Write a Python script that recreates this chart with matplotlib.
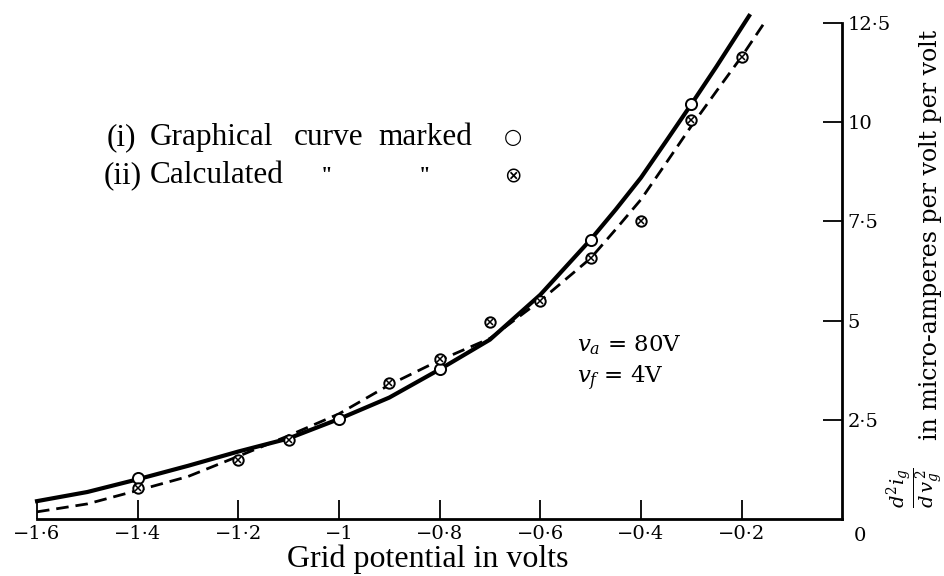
import numpy as np
import matplotlib.pyplot as plt

plt.rcParams['mathtext.fontset'] = 'dejavuserif'

# grid potential (volts) vs d2ig/dvg2 (micro-amperes per volt per volt)
graph_x = [-1.4, -1.0, -0.8, -0.5, -0.3]
graph_y = [1.04, 2.52, 3.77, 7.04, 10.45]

calc_x = [-1.4, -1.2, -1.1, -0.9, -0.8, -0.7, -0.6, -0.5, -0.4, -0.3, -0.2]
calc_y = [0.77, 1.48, 1.99, 3.43, 4.04, 4.97, 5.5, 6.59, 7.5, 10.05, 11.65]

# curves
solid_x = [-1.6, -1.5, -1.4, -1.3, -1.2, -1.1, -1.0, -0.9, -0.8, -0.7, -0.6,
           -0.5, -0.45, -0.4, -0.35, -0.3, -0.25, -0.185]
solid_y = [0.45, 0.68, 1.0, 1.34, 1.7, 2.03, 2.52, 3.06, 3.77, 4.52, 5.65,
           7.04, 7.8, 8.6, 9.52, 10.45, 11.4, 12.68]

dashed_x = [-1.6, -1.5, -1.4, -1.3, -1.2, -1.1, -1.0, -0.9, -0.8, -0.7, -0.6,
            -0.5, -0.45, -0.4, -0.35, -0.3, -0.25, -0.2, -0.155]
dashed_y = [0.18, 0.38, 0.72, 1.07, 1.58, 2.1, 2.65, 3.38, 4.0, 4.55, 5.5,
            6.57, 7.3, 8.05, 8.97, 9.9, 10.78, 11.65, 12.5]

xticks = [-1.6, -1.4, -1.2, -1.0, -0.8, -0.6, -0.4, -0.2]
xticklabels = ['\u22121\u00b76', '\u22121\u00b74', '\u22121\u00b72', '\u22121',
               '\u22120\u00b78', '\u22120\u00b76', '\u22120\u00b74', '\u22120\u00b72']
yticks = [2.5, 5, 7.5, 10, 12.5]
yticklabels = ['2\u00b75', '5', '7\u00b75', '10', '12\u00b75']

fig = plt.figure(figsize=(9.45, 5.76), dpi=100)
ax = fig.add_axes([0.0392, 0.099, 0.852, 0.861])

ax.plot(solid_x, solid_y, color='black', linewidth=3.0, clip_on=False, zorder=3)
ax.plot(dashed_x, dashed_y, color='black', linewidth=2.0, dashes=(4.5, 2.5),
        clip_on=False, zorder=3)

# graphical points: open circles
ax.plot(graph_x, graph_y, 'o', ms=8, mfc='white', mec='black', mew=1.4, zorder=5)
# calculated points: crossed circles
ax.plot(calc_x, calc_y, 'o', ms=7.5, mfc='white', mec='black', mew=1.4, zorder=5)
ax.plot(calc_x, calc_y, 'x', ms=4.5, color='black', mew=1.1, zorder=6)

ax.set_xlim(-1.6, 0)
ax.set_ylim(0, 12.5)

for s in ['left', 'top']:
    ax.spines[s].set_visible(False)
ax.spines['right'].set_linewidth(2.0)
ax.spines['bottom'].set_linewidth(2.0)

ax.yaxis.tick_right()
ax.set_xticks(xticks)
ax.set_xticklabels(xticklabels, fontfamily='DejaVu Serif', fontsize=14)
ax.set_yticks(yticks)
ax.set_yticklabels(yticklabels, fontfamily='DejaVu Serif', fontsize=14)
ax.tick_params(axis='x', direction='in', length=14, width=1.3, pad=4)
ax.tick_params(axis='y', direction='in', length=14, width=1.3, pad=4)

ax.annotate('0', xy=(0, 0), xytext=(13, -12), textcoords='offset points',
            ha='center', va='center', fontsize=14, fontfamily='DejaVu Serif',
            annotation_clip=False)

fig.text(0.453, 0.016, 'Grid potential in volts', ha='center', va='baseline',
         fontsize=23, fontfamily='Liberation Serif')

# y label: fraction then words, rotated
fig.text(916 / 945, 1 - 508 / 576, r'$\dfrac{d^2 i_g}{d\,v_g^{\,2}}$', rotation=90,
         ha='center', va='bottom', fontsize=14, fontfamily='DejaVu Serif')
fig.text(931 / 945, 1 - 440 / 576, 'in micro-amperes per volt per volt',
         rotation=90, ha='center', va='bottom', fontsize=17,
         fontfamily='DejaVu Serif')

# key
key_font = dict(va='baseline', fontsize=22.5, fontfamily='Liberation Serif')
row1 = 1 - 145 / 576
row2 = 1 - 183 / 576
fig.text(107 / 945, row1, '(i)', ha='left', **key_font)
fig.text(150 / 945, row1, 'Graphical', ha='left', **key_font)
fig.text(294 / 945, row1, 'curve', ha='left', **key_font)
fig.text(378 / 945, row1, 'marked', ha='left', **key_font)
fig.text(513 / 945, 1 - 137 / 576, '\u25cb', ha='center', va='center',
         fontsize=15, fontfamily='DejaVu Sans')
fig.text(104 / 945, row2, '(ii)', ha='left', **key_font)
fig.text(150 / 945, row2, 'Calculated', ha='left', **key_font)
fig.text(327 / 945, 1 - 176 / 576, '"', ha='center', va='center', fontsize=15,
         fontweight='bold', fontfamily='Liberation Serif')
fig.text(425 / 945, 1 - 176 / 576, '"', ha='center', va='center', fontsize=15,
         fontweight='bold', fontfamily='Liberation Serif')
fig.text(513 / 945, 1 - 176 / 576, '\u2297', ha='center', va='center',
         fontsize=15, fontfamily='DejaVu Sans')

fig.text(577 / 945, 1 - 345 / 576, r'$v_a$ = 80V', ha='left', va='center',
         fontsize=16.5, fontfamily='DejaVu Serif')
fig.text(577 / 945, 1 - 378 / 576, r'$v_f$ = 4V', ha='left', va='center',
         fontsize=16.5, fontfamily='DejaVu Serif')

fig.savefig('out.png', dpi=100)
